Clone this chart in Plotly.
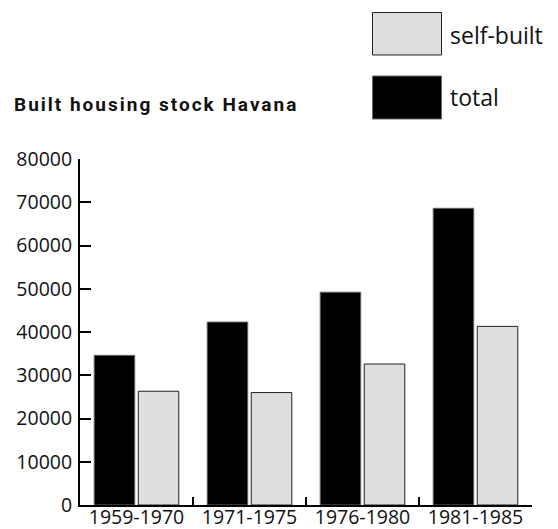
import plotly.graph_objects as go

categories = ["1959-1970", "1971-1975", "1976-1980", "1981-1985"]
total = [34600, 42300, 49200, 68600]
self_built = [26300, 26000, 32600, 41300]
y_ticks = [0, 10000, 20000, 30000, 40000, 50000, 60000, 70000, 80000]

OFF = 8  # page body margin
W, H = 558 - OFF, 529 - OFF
# plot area in page pixels: x 80.5..532, y 159..505.5
ML, MT = 80 - OFF, 159 - OFF
MR = W - (532 - OFF)
MB = H - (505 - OFF)
PW, PH = W - ML - MR, H - MT - MB


def px(x):
    return (x - OFF - ML) / PW


def py(y):
    return (H - MB - (y - OFF)) / PH


fig = go.Figure()
fig.add_trace(go.Bar(x=categories, y=total, name="total",
                     marker=dict(color="#000000", line=dict(color="#666666", width=1)),
                     showlegend=False))
fig.add_trace(go.Bar(x=categories, y=self_built, name="self-built",
                     marker=dict(color="#dedede", line=dict(color="#222222", width=1)),
                     showlegend=False))

font = "Open Sans, Noto Sans, sans-serif"

# legend (drawn manually to get large swatches)
fig.add_shape(type="rect", xref="paper", yref="paper",
              x0=px(372.5), x1=px(441.5), y0=py(55), y1=py(12.5),
              fillcolor="#dedede", line=dict(color="#222222", width=1))
fig.add_shape(type="rect", xref="paper", yref="paper",
              x0=px(372.5), x1=px(441.5), y0=py(119), y1=py(76),
              fillcolor="#000000", line=dict(color="#666666", width=1))
fig.add_annotation(text="self-built", xref="paper", yref="paper",
                   x=px(448), y=py(35), xanchor="left", yanchor="middle",
                   showarrow=False, font=dict(family=font, size=23, color="#111111"))
fig.add_annotation(text="total", xref="paper", yref="paper",
                   x=px(448), y=py(97), xanchor="left", yanchor="middle",
                   showarrow=False, font=dict(family=font, size=23, color="#111111"))
fig.add_annotation(text='<span style="letter-spacing:2px">Built housing stock Havana</span>',
                   xref="paper", yref="paper",
                   x=px(12), y=py(104), xanchor="left", yanchor="middle",
                   showarrow=False,
                   font=dict(family="Roboto, sans-serif", size=19, color="#111111", weight="bold"))

fig.update_layout(
    width=W, height=H,
    margin=dict(l=ML, r=MR, t=MT, b=MB, pad=0, autoexpand=False),
    paper_bgcolor="white", plot_bgcolor="white",
    barmode="group", bargap=0.22, bargroupgap=0.08,
    showlegend=False,
    font=dict(family=font, color="#111111"),
)
fig.update_xaxes(
    type="category", showgrid=False, zeroline=False, automargin=False,
    showline=True, linecolor="#000000", linewidth=2,
    ticks="inside", tickson="boundaries", ticklen=8, tickwidth=2, tickcolor="#000000",
    tickfont=dict(family=font, size=19.5, color="#111111"),
    ticklabelstandoff=-6,
)
fig.update_yaxes(
    range=[0, 80000], tickvals=y_ticks, ticktext=[str(v) for v in y_ticks],
    showgrid=False, zeroline=False, automargin=False,
    showline=True, linecolor="#000000", linewidth=2,
    ticks="inside", ticklen=11, tickwidth=2, tickcolor="#000000",
    tickfont=dict(family=font, size=19.5, color="#111111"),
    ticklabelstandoff=2,
)

fig.write_html("out.html")
